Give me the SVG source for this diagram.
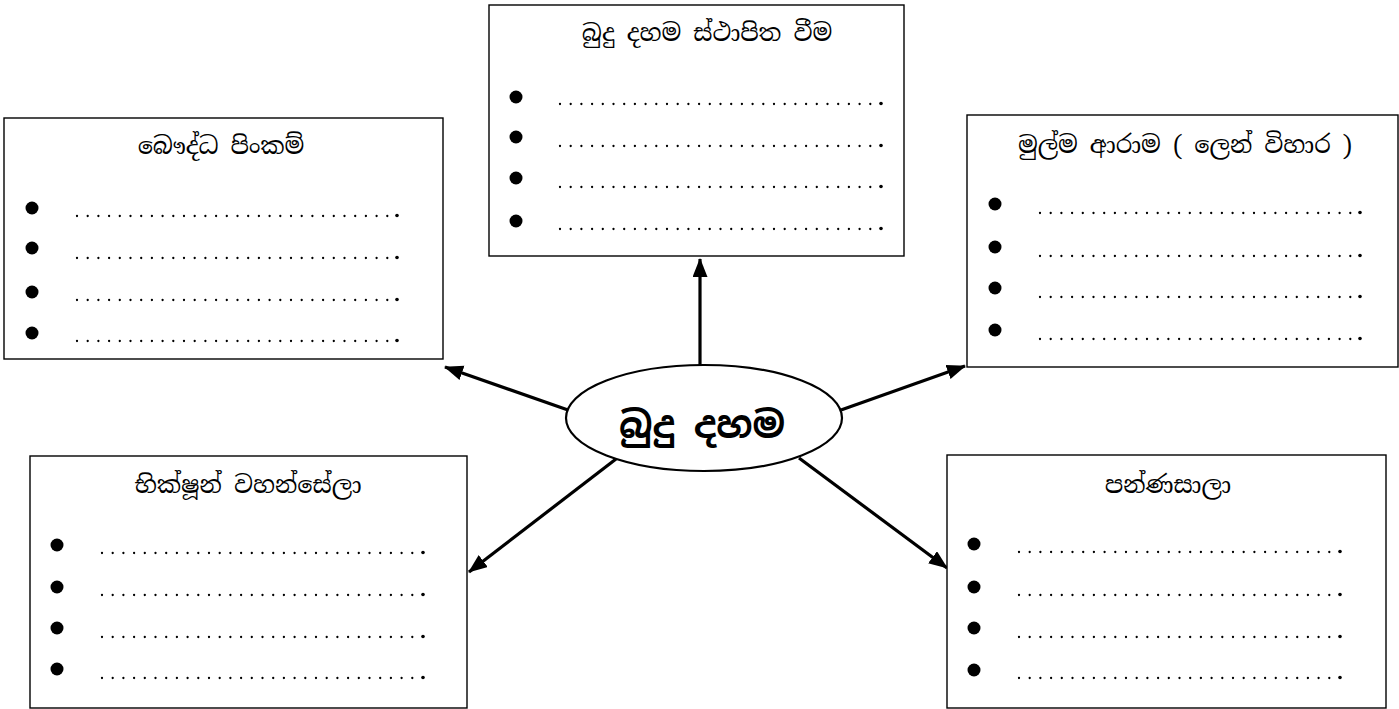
<svg xmlns="http://www.w3.org/2000/svg" width="1399" height="709" viewBox="0 0 1399 709">
<style>
.box{fill:#fff;stroke:#000;stroke-width:1.4}
.title{font-family:"Noto Serif Sinhala","Noto Sans Sinhala","Iskoola Pota","Liberation Serif",serif;font-size:24px;fill:#000;text-anchor:middle}
.bul{fill:#000}
.dots{stroke:#000;stroke-width:2.3;stroke-linecap:round;stroke-dasharray:0 10.7;fill:none}
.end{fill:#000}
.conn{stroke:#000;stroke-width:3.2;fill:none}
.center{font-family:"Noto Sans Sinhala","Noto Serif Sinhala","Iskoola Pota","Liberation Sans",sans-serif;font-size:37px;font-weight:bold;fill:#000;text-anchor:middle}
</style>
<defs>
<marker id="ah" markerUnits="userSpaceOnUse" markerWidth="20" markerHeight="16" refX="18" refY="7.5" orient="auto">
<path d="M0,0 L19,7.5 L0,15 z" fill="#000"/>
</marker>
</defs>
<rect width="1399" height="709" fill="#fff"/>

<g id="connectors">
<line class="conn" x1="700" y1="366" x2="700" y2="259" marker-end="url(#ah)"/>
<line class="conn" x1="568" y1="410" x2="445" y2="367" marker-end="url(#ah)"/>
<line class="conn" x1="841" y1="410" x2="965" y2="366" marker-end="url(#ah)"/>
<line class="conn" x1="616" y1="459" x2="469" y2="572" marker-end="url(#ah)"/>
<line class="conn" x1="799" y1="458" x2="947" y2="568" marker-end="url(#ah)"/>
</g>

<g id="node-center">
<ellipse cx="704" cy="418" rx="138" ry="53" fill="#fff" stroke="#000" stroke-width="2.2"/>
<text class="center" x="702" y="438">බුදු දහම</text>
</g>

<g id="node-top">
<rect class="box" x="489" y="5" width="415" height="251"/>
<text class="title" x="707" y="41">බුදු දහම ස්ථාපිත වීම</text>
<circle class="bul" cx="516" cy="97" r="6.5"/><line class="dots" x1="560" y1="104" x2="873" y2="104"/><circle class="end" cx="881" cy="103.5" r="1.8"/>
<circle class="bul" cx="516" cy="137" r="6.5"/><line class="dots" x1="560" y1="146" x2="873" y2="146"/><circle class="end" cx="881" cy="145.5" r="1.8"/>
<circle class="bul" cx="516" cy="178" r="6.5"/><line class="dots" x1="560" y1="187" x2="873" y2="187"/><circle class="end" cx="881" cy="186.5" r="1.8"/>
<circle class="bul" cx="516" cy="221" r="6.5"/><line class="dots" x1="560" y1="229" x2="873" y2="229"/><circle class="end" cx="881" cy="228.5" r="1.8"/>
</g>

<g id="node-left">
<rect class="box" x="4" y="118" width="439" height="241"/>
<text class="title" x="221" y="154">බෞද්ධ පිංකම්</text>
<circle class="bul" cx="32" cy="208" r="6.5"/><line class="dots" x1="77" y1="216" x2="389" y2="216"/><circle class="end" cx="397" cy="215.5" r="1.8"/>
<circle class="bul" cx="32" cy="248" r="6.5"/><line class="dots" x1="77" y1="258" x2="389" y2="258"/><circle class="end" cx="397" cy="257.5" r="1.8"/>
<circle class="bul" cx="32" cy="292" r="6.5"/><line class="dots" x1="77" y1="300" x2="389" y2="300"/><circle class="end" cx="397" cy="299.5" r="1.8"/>
<circle class="bul" cx="32" cy="333" r="6.5"/><line class="dots" x1="77" y1="341" x2="389" y2="341"/><circle class="end" cx="397" cy="340.5" r="1.8"/>
</g>

<g id="node-right">
<rect class="box" x="967" y="115" width="431" height="252"/>
<text class="title" x="1185" y="153">මුල්ම ආරාම ( ලෙන් විහාර )</text>
<circle class="bul" cx="995" cy="204" r="6.5"/><line class="dots" x1="1040" y1="213" x2="1352" y2="213"/><circle class="end" cx="1360" cy="212.5" r="1.8"/>
<circle class="bul" cx="995" cy="247" r="6.5"/><line class="dots" x1="1040" y1="256" x2="1352" y2="256"/><circle class="end" cx="1360" cy="255.5" r="1.8"/>
<circle class="bul" cx="995" cy="288" r="6.5"/><line class="dots" x1="1040" y1="297" x2="1352" y2="297"/><circle class="end" cx="1360" cy="296.5" r="1.8"/>
<circle class="bul" cx="995" cy="330" r="6.5"/><line class="dots" x1="1040" y1="339" x2="1352" y2="339"/><circle class="end" cx="1360" cy="338.5" r="1.8"/>
</g>

<g id="node-bottom-left">
<rect class="box" x="30" y="456" width="437" height="252"/>
<text class="title" x="248" y="493">භික්ෂූන් වහන්සේලා</text>
<circle class="bul" cx="57" cy="545" r="6.5"/><line class="dots" x1="102" y1="553" x2="415" y2="553"/><circle class="end" cx="423" cy="552.5" r="1.8"/>
<circle class="bul" cx="57" cy="587" r="6.5"/><line class="dots" x1="102" y1="595" x2="415" y2="595"/><circle class="end" cx="423" cy="594.5" r="1.8"/>
<circle class="bul" cx="57" cy="628" r="6.5"/><line class="dots" x1="102" y1="637" x2="415" y2="637"/><circle class="end" cx="423" cy="636.5" r="1.8"/>
<circle class="bul" cx="57" cy="669" r="6.5"/><line class="dots" x1="102" y1="678" x2="415" y2="678"/><circle class="end" cx="423" cy="677.5" r="1.8"/>
</g>

<g id="node-bottom-right">
<rect class="box" x="947" y="455" width="439" height="253"/>
<text class="title" x="1168" y="493">පන්ණසාලා</text>
<circle class="bul" cx="974" cy="544" r="6.5"/><line class="dots" x1="1019" y1="552" x2="1332" y2="552"/><circle class="end" cx="1340" cy="551.5" r="1.8"/>
<circle class="bul" cx="974" cy="587" r="6.5"/><line class="dots" x1="1019" y1="595" x2="1332" y2="595"/><circle class="end" cx="1340" cy="594.5" r="1.8"/>
<circle class="bul" cx="974" cy="628" r="6.5"/><line class="dots" x1="1019" y1="637" x2="1332" y2="637"/><circle class="end" cx="1340" cy="636.5" r="1.8"/>
<circle class="bul" cx="974" cy="670" r="6.5"/><line class="dots" x1="1019" y1="678" x2="1332" y2="678"/><circle class="end" cx="1340" cy="677.5" r="1.8"/>
</g>
</svg>
